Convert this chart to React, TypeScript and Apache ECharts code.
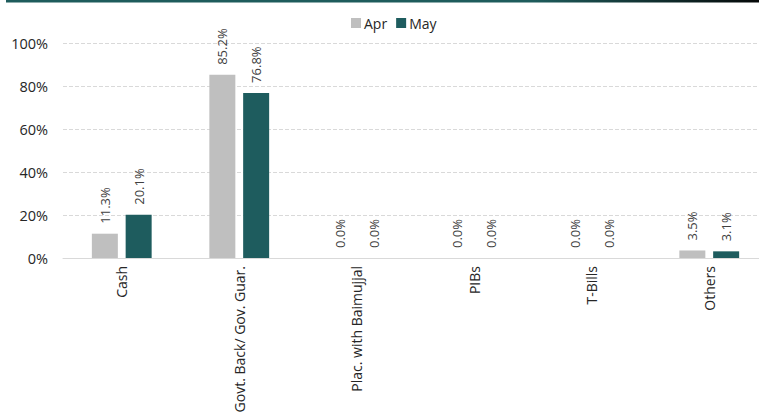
import React, { useEffect, useRef } from "react";
import * as echarts from "echarts";

const categories = ["Cash", "Govt. Back/ Gov. Guar.", "Plac. with Baimujjal", "PIBs", "T-Bills", "Others"];
const aprValues = [11.3, 85.2, 0.0, 0.0, 0.0, 3.5];
const mayValues = [20.1, 76.8, 0.0, 0.0, 0.0, 3.1];
const seriesNames = ["Apr", "May"];

const FONT = "Open Sans";

export default function App() {
  const ref = useRef<HTMLDivElement>(null);
  useEffect(() => {
    document.body.style.margin = "0";
    document.body.style.overflow = "hidden";
    if (!ref.current) return;
    const chart = echarts.init(ref.current, null, { renderer: "svg" });
    const label = {
      show: true,
      position: "top",
      rotate: 90,
      align: "left",
      verticalAlign: "middle",
      distance: 10,
      color: "#404040",
      fontSize: 13,
      fontFamily: FONT,
      formatter: (p: any) => Number(p.value).toFixed(1) + "%",
    };
    chart.setOption({
      animation: false,
      textStyle: { fontFamily: FONT },
      graphic: [
        {
          type: "rect",
          left: 6,
          top: 0,
          shape: { width: 753, height: 2.5 },
          style: {
            fill: new echarts.graphic.LinearGradient(0, 0, 1, 0, [
              { offset: 0, color: "#1e5c5c" },
              { offset: 0.7, color: "#1e5c5c" },
              { offset: 1, color: "#050808" },
            ]),
          },
        },
      ],
      legend: {
        data: seriesNames,
        top: 11,
        left: 346,
        itemWidth: 10,
        itemHeight: 10,
        itemGap: 9,
        icon: "rect",
        textStyle: { fontSize: 14, color: "#262626", fontFamily: FONT, padding: [0, 0, 0, -2] },
      },
      grid: { left: 63, right: -9, top: 43, bottom: 154, containLabel: false, outerBoundsMode: "none" },
      xAxis: {
        type: "category",
        data: categories,
        axisLine: { lineStyle: { color: "#d9d9d9", width: 1 } },
        axisTick: { show: false },
        axisLabel: { rotate: 90, fontSize: 14, color: "#262626", margin: 8, fontFamily: FONT, interval: 0 },
      },
      yAxis: {
        type: "value",
        min: 0,
        max: 100,
        interval: 20,
        axisLine: { show: false },
        axisTick: { show: false },
        axisLabel: { formatter: "{value}%", fontSize: 14.5, color: "#262626", margin: 15, fontFamily: FONT },
        splitLine: { lineStyle: { color: "#d9d9d9", type: "dashed" } },
      },
      series: [
        {
          name: seriesNames[0],
          type: "bar",
          data: aprValues,
          barWidth: 26,
          barGap: "30%",
          itemStyle: { color: "#bfbfbf" },
          label,
        },
        {
          name: seriesNames[1],
          type: "bar",
          data: mayValues,
          barWidth: 26,
          barGap: "30%",
          itemStyle: { color: "#1e5c5e" },
          label,
        },
      ],
    });
    return () => chart.dispose();
  }, []);
  return (
    <div style={{ width: 759, height: 412, overflow: "hidden", position: "relative", background: "#fff" }}>
      <div ref={ref} style={{ width: 759, height: 412 }} />
    </div>
  );
}
